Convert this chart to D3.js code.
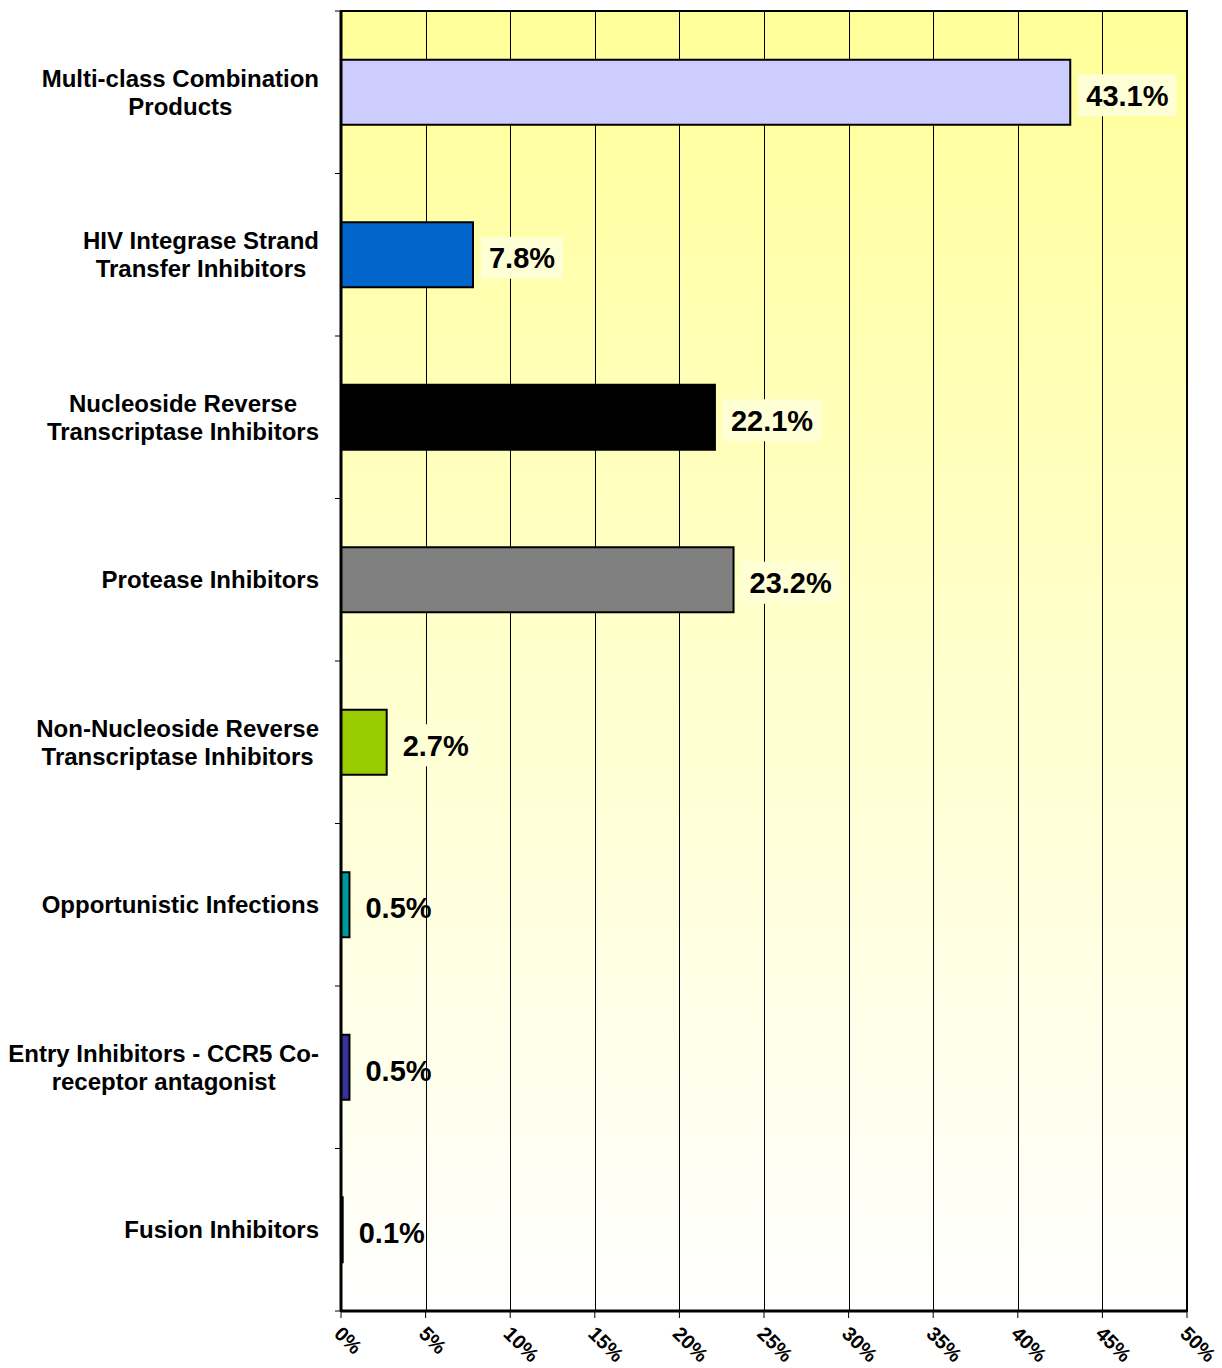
<!DOCTYPE html>
<html>
<head>
<meta charset="utf-8">
<script src="https://cdn.jsdelivr.net/npm/d3@7"></script>
<style>
  body { margin: 0; background: #fff; }
  text { font-family: "Liberation Sans", Arial, sans-serif; font-weight: bold; fill: #000; }
</style>
</head>
<body>
<svg id="chart" width="1222" height="1368"></svg>
<script>
// categories (top to bottom), line breaks as in the original labels
var categories = [
  "Multi-class Combination\nProducts",
  "HIV Integrase Strand\nTransfer Inhibitors",
  "Nucleoside Reverse\nTranscriptase Inhibitors",
  "Protease Inhibitors",
  "Non-Nucleoside Reverse\nTranscriptase Inhibitors",
  "Opportunistic Infections",
  "Entry Inhibitors - CCR5 Co-\nreceptor antagonist",
  "Fusion Inhibitors"
];
var shares = [43.1, 7.8, 22.1, 23.2, 2.7, 0.5, 0.5, 0.1];
var barColors = ["#ccccff", "#0066cc", "#000000", "#808080", "#99cc00", "#009999", "#333399", "#000000"];
var xTicks = [0, 5, 10, 15, 20, 25, 30, 35, 40, 45, 50];

var margin = { top: 11, right: 35, bottom: 57, left: 341 };
var fullwidth = 1222, fullheight = 1368;
var width = fullwidth - margin.left - margin.right;
var height = fullheight - margin.top - margin.bottom;

var svg = d3.select("#chart");
var defs = svg.append("defs");
var grad = defs.append("linearGradient")
  .attr("id", "bg").attr("x1", 0).attr("y1", 0).attr("x2", 0).attr("y2", 1);
grad.append("stop").attr("offset", "0%").attr("stop-color", "#ffff99");
grad.append("stop").attr("offset", "100%").attr("stop-color", "#ffffff");

var g = svg.append("g")
  .attr("transform", "translate(" + margin.left + "," + margin.top + ")");

var xScale = d3.scaleLinear().domain([0, 50]).range([0, width]);
var yScale = d3.scaleBand().domain(d3.range(categories.length)).range([0, height]).paddingInner(0.6).paddingOuter(0.3);
var bandScale = d3.scaleBand().domain(d3.range(categories.length)).range([0, height]);

// plot background
g.append("rect")
  .attr("width", width).attr("height", height)
  .attr("fill", "url(#bg)");

// vertical grid lines
g.selectAll(".grid")
  .data(xTicks.slice(1, -1))
  .enter().append("line")
  .attr("class", "grid")
  .attr("x1", function(d) { return Math.round(xScale(d)) + 0.5; })
  .attr("x2", function(d) { return Math.round(xScale(d)) + 0.5; })
  .attr("y1", 0).attr("y2", height)
  .attr("stroke", "#000").attr("stroke-width", 1);

// bars
g.selectAll(".bar")
  .data(shares)
  .enter().append("rect")
  .attr("class", "bar")
  .attr("x", 0)
  .attr("y", function(d, i) { return yScale(i); })
  .attr("width", function(d) { return xScale(d); })
  .attr("height", yScale.bandwidth())
  .attr("fill", function(d, i) { return barColors[i]; })
  .attr("stroke", "#000").attr("stroke-width", 2);

// value labels with light box behind
var vlab = g.selectAll(".vlab")
  .data(shares)
  .enter().append("g")
  .attr("class", "vlab")
  .attr("transform", function(d, i) {
    return "translate(" + (xScale(d) + 16) + "," + (yScale(i) + yScale.bandwidth() / 2 + 3) + ")";
  });
vlab.append("rect").attr("class", "vbox");
vlab.append("text")
  .attr("dy", "0.36em")
  .style("font-size", "29px")
  .text(function(d) { return d.toFixed(1) + "%"; });
vlab.each(function(d) {
  var t = d3.select(this).select("text").node().getComputedTextLength();
  d3.select(this).select("rect")
    .attr("x", -8).attr("y", -21).attr("width", t + 16).attr("height", 42)
    .attr("fill", "#ffffd6").attr("fill-opacity", d > 2 ? 1 : 0);
});

// frame
g.append("rect")
  .attr("width", width).attr("height", height)
  .attr("fill", "none").attr("stroke", "#000").attr("stroke-width", 2);
g.append("line")
  .attr("x1", 0).attr("x2", 0).attr("y1", 0).attr("y2", height)
  .attr("stroke", "#000").attr("stroke-width", 3);
g.append("line")
  .attr("x1", 0).attr("x2", width).attr("y1", height).attr("y2", height)
  .attr("stroke", "#000").attr("stroke-width", 3);

// left axis ticks at band edges
g.selectAll(".ytick")
  .data(d3.range(categories.length + 1))
  .enter().append("line")
  .attr("x1", -6).attr("x2", 0)
  .attr("y1", function(d) { return d * bandScale.step(); })
  .attr("y2", function(d) { return d * bandScale.step(); })
  .attr("stroke", "#000").attr("stroke-width", 1);

// bottom ticks and rotated labels
g.selectAll(".xtick")
  .data(xTicks)
  .enter().append("line")
  .attr("x1", function(d) { return xScale(d); })
  .attr("x2", function(d) { return xScale(d); })
  .attr("y1", height).attr("y2", height + 7)
  .attr("stroke", "#000").attr("stroke-width", 1);
g.selectAll(".xlab")
  .data(xTicks)
  .enter().append("text")
  .attr("class", "xlab")
  .attr("transform", function(d) {
    return "translate(" + (xScale(d) + 2) + "," + (height + 14) + ") rotate(45)";
  })
  .attr("dy", "0.7em")
  .style("font-size", "20px")
  .text(function(d) { return d + "%"; });

// category labels: block right-aligned, lines centred within block
var clab = g.selectAll(".clab")
  .data(categories)
  .enter().append("text")
  .attr("class", "clab")
  .style("font-size", "24px");
clab.each(function(d, i) {
  var lines = d.split("\n");
  var el = d3.select(this);
  var cy = bandScale(i) + bandScale.step() / 2;
  var lh = 28;
  lines.forEach(function(l, k) {
    el.append("tspan")
      .attr("y", cy + (k - (lines.length - 1) / 2) * lh)
      .attr("dy", "0.36em")
      .text(l);
  });
  var maxw = 0;
  el.selectAll("tspan").each(function() {
    maxw = Math.max(maxw, this.getComputedTextLength());
  });
  el.attr("text-anchor", "middle");
  el.selectAll("tspan").attr("x", -22 - maxw / 2);
});
</script>
</body>
</html>
